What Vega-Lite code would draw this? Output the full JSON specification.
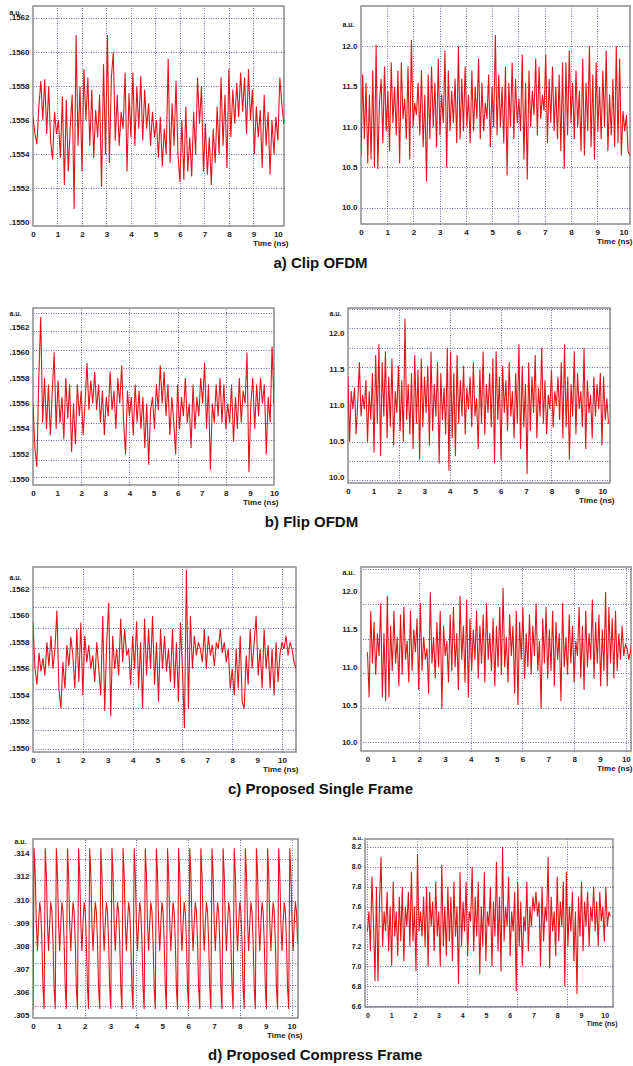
{
"$schema":"https://vega.github.io/schema/vega-lite/v6.json",
"background":"white",
"padding":{"left":8,"top":5,"right":2,"bottom":2},
"config":{
"font":"Liberation Sans",
"view":{"stroke":"#8c8c8c","strokeWidth":1.5},
"axis":{"domain":false,"ticks":false,"grid":false,"labelFont":"Liberation Sans","labelFontWeight":"bold","labelFontSize":8,"labelColor":"#1a1a1a","labelPadding":4,"titleFont":"Liberation Sans","titleFontWeight":"bold","titleFontSize":8,"titleColor":"#1a1a1a","titlePadding":1,"gridColor":"#4f4f96","gridDash":[1,1.5],"gridOpacity":0.85,"gridWidth":1,"labelOverlap":false,"labelFlush":false},
"title":{"font":"Liberation Sans","fontWeight":"bold","fontSize":15,"color":"#111111"}
},
"datasets":{
"slow":[
{"t":0,"a":0.15562,"b":0.1556,"c":0.15595},{"t":0.08,"a":0.15552,"b":0.15525,"c":0.1556},{"t":0.16,"a":0.15546,"b":0.1551,"c":0.15548},{"t":0.24,"a":0.15568,"b":0.1558,"c":0.15572},{"t":0.32,"a":0.15583,"b":0.15628,"c":0.15558},{"t":0.4,"a":0.1556,"b":0.15545,"c":0.15568},{"t":0.48,"a":0.15584,"b":0.1558,"c":0.15555},{"t":0.56,"a":0.15552,"b":0.1554,"c":0.1558},{"t":0.64,"a":0.1558,"b":0.15575,"c":0.15562},{"t":0.72,"a":0.15548,"b":0.15535,"c":0.15585},
{"t":0.8,"a":0.15537,"b":0.1557,"c":0.1556},{"t":0.88,"a":0.15565,"b":0.156,"c":0.15575},{"t":0.96,"a":0.15552,"b":0.1554,"c":0.15604},{"t":1.04,"a":0.1556,"b":0.15578,"c":0.15545},{"t":1.12,"a":0.15538,"b":0.15545,"c":0.1553},{"t":1.2,"a":0.15574,"b":0.15565,"c":0.15565},{"t":1.28,"a":0.15522,"b":0.15532,"c":0.15545},{"t":1.36,"a":0.15572,"b":0.1558,"c":0.15578},{"t":1.44,"a":0.1553,"b":0.15548,"c":0.15562},{"t":1.52,"a":0.15556,"b":0.15575,"c":0.15584},
{"t":1.6,"a":0.15575,"b":0.15522,"c":0.1557},{"t":1.68,"a":0.15508,"b":0.1556,"c":0.15545},{"t":1.76,"a":0.1561,"b":0.15528,"c":0.1559},{"t":1.84,"a":0.15545,"b":0.15575,"c":0.1555},{"t":1.92,"a":0.1558,"b":0.1555,"c":0.15595},{"t":2,"a":0.1553,"b":0.1557,"c":0.1554},{"t":2.08,"a":0.1559,"b":0.15535,"c":0.15585},{"t":2.16,"a":0.1556,"b":0.1556,"c":0.15565},{"t":2.24,"a":0.15585,"b":0.15592,"c":0.15578},{"t":2.32,"a":0.15545,"b":0.15555,"c":0.1556},
{"t":2.4,"a":0.15578,"b":0.15578,"c":0.1557},{"t":2.48,"a":0.15538,"b":0.1556,"c":0.1555},{"t":2.56,"a":0.15566,"b":0.15585,"c":0.1558},{"t":2.64,"a":0.1555,"b":0.15555,"c":0.1556},{"t":2.72,"a":0.15575,"b":0.15575,"c":0.1554},{"t":2.8,"a":0.15521,"b":0.15545,"c":0.156},{"t":2.88,"a":0.15593,"b":0.1557,"c":0.15528},{"t":2.96,"a":0.1554,"b":0.15535,"c":0.1558},{"t":3.04,"a":0.1561,"b":0.15565,"c":0.1561},{"t":3.12,"a":0.15535,"b":0.1555,"c":0.15524},
{"t":3.2,"a":0.15585,"b":0.15585,"c":0.15585},{"t":3.28,"a":0.156,"b":0.15555,"c":0.1556},{"t":3.36,"a":0.15548,"b":0.1557,"c":0.15575},{"t":3.44,"a":0.15575,"b":0.1554,"c":0.15555},{"t":3.52,"a":0.15545,"b":0.1558,"c":0.15598},{"t":3.6,"a":0.15565,"b":0.1556,"c":0.15565},{"t":3.68,"a":0.15555,"b":0.1559,"c":0.1559},{"t":3.76,"a":0.15588,"b":0.15545,"c":0.1557},{"t":3.84,"a":0.1553,"b":0.1552,"c":0.15575},{"t":3.92,"a":0.15576,"b":0.1557,"c":0.15548},
{"t":4,"a":0.1555,"b":0.1555,"c":0.15585},{"t":4.08,"a":0.15588,"b":0.15565,"c":0.1556},{"t":4.16,"a":0.15545,"b":0.15535,"c":0.15596},{"t":4.24,"a":0.1558,"b":0.15575,"c":0.15545},{"t":4.32,"a":0.15555,"b":0.15545,"c":0.1558},{"t":4.4,"a":0.15586,"b":0.1557,"c":0.1553},{"t":4.48,"a":0.15548,"b":0.1554,"c":0.15598},{"t":4.56,"a":0.15578,"b":0.15565,"c":0.15555},{"t":4.64,"a":0.15555,"b":0.15525,"c":0.1559},{"t":4.72,"a":0.1557,"b":0.1556,"c":0.1556},
{"t":4.8,"a":0.15545,"b":0.15512,"c":0.156},{"t":4.88,"a":0.15565,"b":0.15555,"c":0.15548},{"t":4.96,"a":0.1555,"b":0.15565,"c":0.1558},{"t":5.04,"a":0.1556,"b":0.1554,"c":0.15535},{"t":5.12,"a":0.15538,"b":0.15575,"c":0.1559},{"t":5.2,"a":0.15562,"b":0.15555,"c":0.1556},{"t":5.28,"a":0.15533,"b":0.1559,"c":0.15585},{"t":5.36,"a":0.15555,"b":0.1556,"c":0.15558},{"t":5.44,"a":0.1554,"b":0.15585,"c":0.15575},{"t":5.52,"a":0.15596,"b":0.1555,"c":0.1555},
{"t":5.6,"a":0.15535,"b":0.15575,"c":0.1559},{"t":5.68,"a":0.1557,"b":0.15535,"c":0.15545},{"t":5.76,"a":0.15545,"b":0.15565,"c":0.1558},{"t":5.84,"a":0.15583,"b":0.15545,"c":0.15535},{"t":5.92,"a":0.1554,"b":0.1552,"c":0.15595},{"t":6,"a":0.15524,"b":0.15575,"c":0.1556},{"t":6.08,"a":0.1556,"b":0.1554,"c":0.15515},{"t":6.16,"a":0.15525,"b":0.15565,"c":0.15635},{"t":6.24,"a":0.15568,"b":0.1555,"c":0.1553},{"t":6.32,"a":0.1553,"b":0.1558,"c":0.156},
{"t":6.4,"a":0.1555,"b":0.15545,"c":0.1556},{"t":6.48,"a":0.15527,"b":0.1556,"c":0.15585},{"t":6.56,"a":0.15565,"b":0.15525,"c":0.1557},{"t":6.64,"a":0.1554,"b":0.15575,"c":0.1558},{"t":6.72,"a":0.15585,"b":0.1554,"c":0.15575},{"t":6.8,"a":0.15558,"b":0.15565,"c":0.15565},{"t":6.88,"a":0.1558,"b":0.1555,"c":0.1559},{"t":6.96,"a":0.1553,"b":0.1558,"c":0.1556},{"t":7.04,"a":0.15558,"b":0.1556,"c":0.15585},{"t":7.12,"a":0.15528,"b":0.15592,"c":0.1557},
{"t":7.2,"a":0.1555,"b":0.1554,"c":0.15578},{"t":7.28,"a":0.15522,"b":0.15575,"c":0.15562},{"t":7.36,"a":0.15555,"b":0.15508,"c":0.1558},{"t":7.44,"a":0.15535,"b":0.1556,"c":0.15575},{"t":7.52,"a":0.15568,"b":0.15545,"c":0.1559},{"t":7.6,"a":0.1554,"b":0.15575,"c":0.15572},{"t":7.68,"a":0.15585,"b":0.1555,"c":0.1558},{"t":7.76,"a":0.15545,"b":0.1558,"c":0.15565},{"t":7.84,"a":0.15575,"b":0.15545,"c":0.15575},{"t":7.92,"a":0.15532,"b":0.15575,"c":0.15545},
{"t":8,"a":0.1559,"b":0.1554,"c":0.1556},{"t":8.08,"a":0.1555,"b":0.1556,"c":0.1554},{"t":8.16,"a":0.15578,"b":0.15545,"c":0.15575},{"t":8.24,"a":0.15558,"b":0.15575,"c":0.15545},{"t":8.32,"a":0.15582,"b":0.1553,"c":0.15585},{"t":8.4,"a":0.15562,"b":0.15565,"c":0.15535},{"t":8.48,"a":0.15588,"b":0.1554,"c":0.1553},{"t":8.56,"a":0.15565,"b":0.1558,"c":0.1557},{"t":8.64,"a":0.15585,"b":0.15545,"c":0.15548},{"t":8.72,"a":0.15552,"b":0.1557,"c":0.1559},
{"t":8.8,"a":0.1559,"b":0.1556,"c":0.1556},{"t":8.88,"a":0.1556,"b":0.156,"c":0.1558},{"t":8.96,"a":0.15578,"b":0.15506,"c":0.156},{"t":9.04,"a":0.1554,"b":0.1556,"c":0.15555},{"t":9.12,"a":0.15568,"b":0.1558,"c":0.15575},{"t":9.2,"a":0.1555,"b":0.1554,"c":0.15545},{"t":9.28,"a":0.15566,"b":0.15575,"c":0.1559},{"t":9.36,"a":0.15532,"b":0.1555,"c":0.1556},{"t":9.44,"a":0.15575,"b":0.1558,"c":0.15578},{"t":9.52,"a":0.15545,"b":0.1556,"c":0.15545},
{"t":9.6,"a":0.15565,"b":0.15575,"c":0.15575},{"t":9.68,"a":0.15528,"b":0.1552,"c":0.1554},{"t":9.76,"a":0.1556,"b":0.15565,"c":0.1558},{"t":9.84,"a":0.1554,"b":0.15545,"c":0.1555},{"t":9.92,"a":0.15562,"b":0.15605,"c":0.15572},{"t":10,"a":0.15548,"b":0.1556,"c":0.1558},{"t":10.08,"a":0.15585,"c":0.15575},{"t":10.16,"a":0.1557,"c":0.15585},{"t":10.24,"a":0.15558,"c":0.1557},{"t":10.32,"c":0.1558},
{"t":10.4,"c":0.15575},{"t":10.48,"c":0.15565},{"t":10.56,"c":0.1556}
],
"fast":[
{"t":0,"a":10.65,"b":11.4,"c":11.2,"d":7.35},{"t":0.064,"a":11.65,"b":10.5,"c":10.6,"d":7.55},{"t":0.128,"a":10.85,"b":11.2,"c":11.75,"d":7.15},{"t":0.192,"a":11.55,"b":10.95,"c":11.05,"d":7.9},{"t":0.256,"a":10.55,"b":11.25,"c":11.6,"d":7.45},{"t":0.32,"a":11.4,"b":10.6,"c":10.9,"d":6.85},{"t":0.384,"a":10.6,"b":11.05,"c":11.45,"d":7.8},{"t":0.448,"a":11.7,"b":11.6,"c":11.15,"d":6.85},{"t":0.512,"a":10.5,"b":10.85,"c":11.85,"d":7.65},{"t":0.576,"a":12.02,"b":11.15,"c":10.6,"d":8.1},
{"t":0.64,"a":10.48,"b":10.95,"c":11.45,"d":7.2},{"t":0.704,"a":11.3,"b":11.35,"c":10.55,"d":7.55},{"t":0.768,"a":11.6,"b":10.5,"c":11.95,"d":7.35},{"t":0.832,"a":10.8,"b":11.2,"c":10.6,"d":7.75},{"t":0.896,"a":11.75,"b":10.8,"c":11.55,"d":7.15},{"t":0.96,"a":10.95,"b":11.45,"c":10.95,"d":7.6},{"t":1.024,"a":11.45,"b":10.35,"c":11.75,"d":7},{"t":1.088,"a":10.7,"b":11.7,"c":11.05,"d":7.85},{"t":1.152,"a":11.8,"b":10.75,"c":11.4,"d":7.3},{"t":1.216,"a":11.05,"b":11.85,"c":10.75,"d":7.55},
{"t":1.28,"a":11.5,"b":10.3,"c":11.7,"d":7.1},{"t":1.344,"a":10.9,"b":11.6,"c":10.9,"d":7.7},{"t":1.408,"a":11.7,"b":10.85,"c":11.8,"d":7.25},{"t":1.472,"a":10.55,"b":11.75,"c":11.1,"d":7.8},{"t":1.536,"a":11.8,"b":10.55,"c":11.35,"d":7.05},{"t":1.6,"a":11.1,"b":11.4,"c":10.8,"d":7.6},{"t":1.664,"a":11.35,"b":10.7,"c":11.75,"d":7.4},{"t":1.728,"a":10.85,"b":11.65,"c":10.95,"d":7.75},{"t":1.792,"a":11.75,"b":10.45,"c":11.5,"d":7.2},{"t":1.856,"a":10.6,"b":11.2,"c":11.2,"d":7.95},
{"t":1.92,"a":12.08,"b":10.9,"c":11.65,"d":7.25},{"t":1.984,"a":11,"b":11.55,"c":10.7,"d":7.6},{"t":2.048,"a":11.3,"b":10.65,"c":11.85,"d":6.95},{"t":2.112,"a":11.15,"b":11.35,"c":10.95,"d":8.12},{"t":2.176,"a":11.55,"b":10.5,"c":11.4,"d":7.35},{"t":2.24,"a":10.9,"b":12.2,"c":11.1,"d":7.55},{"t":2.304,"a":11.7,"b":10.8,"c":11.25,"d":7.3},{"t":2.368,"a":10.75,"b":11.3,"c":10.65,"d":7.7},{"t":2.432,"a":11.4,"b":10.6,"c":12,"d":7.2},{"t":2.496,"a":10.33,"b":11.45,"c":11.05,"d":7.8},
{"t":2.56,"a":11.65,"b":10.4,"c":11.4,"d":7},{"t":2.624,"a":10.85,"b":11.7,"c":10.85,"d":7.75},{"t":2.688,"a":11.75,"b":10.75,"c":11.6,"d":7.4},{"t":2.752,"a":11,"b":11.5,"c":11,"d":7.65},{"t":2.816,"a":11.55,"b":10.25,"c":11.75,"d":7.15},{"t":2.88,"a":10.75,"b":11.65,"c":10.45,"d":7.85},{"t":2.944,"a":11.85,"b":10.7,"c":11.55,"d":7.3},{"t":3.008,"a":10.9,"b":11.4,"c":11.15,"d":7.55},{"t":3.072,"a":11.4,"b":10.9,"c":11.35,"d":7},{"t":3.136,"a":11.05,"b":11.55,"c":10.8,"d":8.02},
{"t":3.2,"a":11.95,"b":10.45,"c":11.7,"d":7.2},{"t":3.264,"a":10.5,"b":11.75,"c":10.95,"d":7.6},{"t":3.328,"a":11.7,"b":10.65,"c":11.8,"d":7.1},{"t":3.392,"a":10.95,"b":11.3,"c":11,"d":7.8},{"t":3.456,"a":11.45,"b":10.85,"c":11.45,"d":7.25},{"t":3.52,"a":11.05,"b":11.6,"c":10.7,"d":7.7},{"t":3.584,"a":11.6,"b":10.2,"c":11.95,"d":7.05},{"t":3.648,"a":10.8,"b":11.45,"c":11.1,"d":7.85},{"t":3.712,"a":12,"b":10.8,"c":11.55,"d":7.3},{"t":3.776,"a":10.85,"b":11.25,"c":10.8,"d":7.6},
{"t":3.84,"a":11.6,"b":10.6,"c":11.9,"d":6.82},{"t":3.904,"a":10.95,"b":11.8,"c":10.6,"d":7.95},{"t":3.968,"a":11.75,"b":10.1,"c":11.65,"d":7.2},{"t":4.032,"a":11,"b":11.75,"c":10.95,"d":7.65},{"t":4.096,"a":11.4,"b":10.55,"c":11.5,"d":7.35},{"t":4.16,"a":10.8,"b":11.45,"c":11.1,"d":7.85},{"t":4.224,"a":11.7,"b":10.3,"c":11.75,"d":7.1},{"t":4.288,"a":10.95,"b":11.7,"c":10.85,"d":7.55},{"t":4.352,"a":11.5,"b":10.75,"c":11.55,"d":7.45},{"t":4.416,"a":11.1,"b":11.35,"c":11.05,"d":8},
{"t":4.48,"a":11.85,"b":10.85,"c":11.7,"d":7.15},{"t":4.544,"a":10.85,"b":11.55,"c":10.8,"d":7.7},{"t":4.608,"a":11.55,"b":10.6,"c":11.85,"d":7.3},{"t":4.672,"a":10.95,"b":11.25,"c":11.1,"d":7.85},{"t":4.736,"a":11.3,"b":10.95,"c":11.45,"d":6.92},{"t":4.8,"a":11.1,"b":11.4,"c":10.95,"d":7.6},{"t":4.864,"a":11.65,"b":10.7,"c":11.65,"d":7.2},{"t":4.928,"a":10.75,"b":11.6,"c":10.75,"d":7.95},{"t":4.992,"a":11.5,"b":10.85,"c":11.55,"d":7.05},{"t":5.056,"a":11,"b":11.1,"c":11,"d":7.55},
{"t":5.12,"a":12.14,"b":10.4,"c":11.8,"d":7.4},{"t":5.184,"a":10.9,"b":11.5,"c":10.9,"d":7.8},{"t":5.248,"a":11.65,"b":10.75,"c":12.05,"d":7},{"t":5.312,"a":11,"b":11.75,"c":11,"d":7.65},{"t":5.376,"a":11.5,"b":10.6,"c":11.4,"d":7.3},{"t":5.44,"a":10.8,"b":11.3,"c":10.8,"d":8.05},{"t":5.504,"a":11.75,"b":10.9,"c":11.7,"d":7.15},{"t":5.568,"a":10.4,"b":11.45,"c":11.15,"d":7.7},{"t":5.632,"a":11.55,"b":10.7,"c":11.55,"d":6.95},{"t":5.696,"a":11,"b":11.65,"c":10.65,"d":8.2},
{"t":5.76,"a":11.8,"b":10.2,"c":11.75,"d":7.25},{"t":5.824,"a":10.85,"b":11.75,"c":10.5,"d":7.6},{"t":5.888,"a":11.6,"b":10.8,"c":11.6,"d":7.4},{"t":5.952,"a":11.05,"b":11.4,"c":11.1,"d":7.9},{"t":6.016,"a":11.35,"b":10.25,"c":11.8,"d":7.1},{"t":6.08,"a":10.95,"b":11.55,"c":10.85,"d":7.55},{"t":6.144,"a":11.9,"b":10.9,"c":11.45,"d":7.35},{"t":6.208,"a":10.6,"b":11.35,"c":11,"d":7.75},{"t":6.272,"a":11.55,"b":10.65,"c":11.7,"d":6.75},{"t":6.336,"a":10.35,"b":11.6,"c":10.9,"d":7.85},
{"t":6.4,"a":11.7,"b":10.85,"c":11.55,"d":7.2},{"t":6.464,"a":11,"b":11.2,"c":11.15,"d":7.65},{"t":6.528,"a":11.45,"b":10.55,"c":11.85,"d":7},{"t":6.592,"a":11.15,"b":11.45,"c":10.95,"d":7.5},{"t":6.656,"a":11.85,"b":10.75,"c":11.35,"d":7.35},{"t":6.72,"a":10.9,"b":11.85,"c":10.45,"d":7.85},{"t":6.784,"a":11.75,"b":10.4,"c":11.65,"d":7.15},{"t":6.848,"a":11.1,"b":11.55,"c":11.05,"d":7.6},{"t":6.912,"a":11.4,"b":10.7,"c":11.8,"d":7.4},{"t":6.976,"a":11.2,"b":11.3,"c":10.85,"d":7.7},
{"t":7.04,"a":11.9,"b":10.05,"c":11.5,"d":7.55},{"t":7.104,"a":10.8,"b":11.6,"c":10.95,"d":7.75},{"t":7.168,"a":11.6,"b":10.65,"c":11.75,"d":7.5},{"t":7.232,"a":11.05,"b":11.4,"c":10.75,"d":7.65},{"t":7.296,"a":11.75,"b":10.9,"c":11.6,"d":7},{"t":7.36,"a":10.95,"b":11.7,"c":11.1,"d":7.8},{"t":7.424,"a":11.5,"b":10.55,"c":11.45,"d":7.25},{"t":7.488,"a":10.85,"b":11.25,"c":10.55,"d":7.6},{"t":7.552,"a":11.65,"b":10.85,"c":11.85,"d":7.45},{"t":7.616,"a":10.7,"b":11.8,"c":11,"d":8.1},
{"t":7.68,"a":11.8,"b":10.75,"c":11.4,"d":6.98},{"t":7.744,"a":10.48,"b":11.35,"c":10.9,"d":7.7},{"t":7.808,"a":11.8,"b":10.6,"c":11.7,"d":7.35},{"t":7.872,"a":10.9,"b":11.15,"c":11.05,"d":7.55},{"t":7.936,"a":11.95,"b":10.95,"c":11.55,"d":7.1},{"t":8,"a":11.05,"b":11.5,"c":10.8,"d":7.9},{"t":8.064,"a":11.55,"b":10.7,"c":11.35,"d":7.25},{"t":8.128,"a":10.85,"b":11.2,"c":11.15,"d":7.65},{"t":8.192,"a":11.7,"b":11,"c":11.8,"d":7.4},{"t":8.256,"a":11,"b":11.4,"c":10.85,"d":7.85},
{"t":8.32,"a":11.45,"b":10.8,"c":11.55,"d":6.8},{"t":8.384,"a":10.7,"b":11.6,"c":10.7,"d":7.95},{"t":8.448,"a":11.85,"b":10.55,"c":11.75,"d":7.2},{"t":8.512,"a":10.65,"b":11.85,"c":11,"d":7.6},{"t":8.576,"a":11.55,"b":10.7,"c":11.45,"d":7.35},{"t":8.64,"a":10.95,"b":11.4,"c":11.1,"d":7.75},{"t":8.704,"a":12,"b":10.25,"c":11.9,"d":7.05},{"t":8.768,"a":10.75,"b":11.3,"c":10.85,"d":7.55},{"t":8.832,"a":11.65,"b":10.85,"c":11.6,"d":6.72},{"t":8.896,"a":10.6,"b":11.75,"c":11.05,"d":7.7},
{"t":8.96,"a":11.8,"b":10.6,"c":11.7,"d":7.3},{"t":9.024,"a":10.95,"b":11.45,"c":10.75,"d":7.85},{"t":9.088,"a":11.5,"b":10.95,"c":11.5,"d":7.15},{"t":9.152,"a":10.85,"b":11.2,"c":10.95,"d":7.65},{"t":9.216,"a":11.7,"b":10.7,"c":12,"d":7.4},{"t":9.28,"a":11,"b":11.8,"c":10.75,"d":7.75},{"t":9.344,"a":11.95,"b":10.4,"c":11.8,"d":7.2},{"t":9.408,"a":10.7,"b":11.35,"c":11.05,"d":7.6},{"t":9.472,"a":11.4,"b":10.9,"c":11.65,"d":7.45},{"t":9.536,"a":10.9,"b":11.15,"c":10.85,"d":7.8},
{"t":9.6,"a":11.6,"b":10.55,"c":11.75,"d":7.35},{"t":9.664,"a":10.75,"b":11.4,"c":10.95,"d":7.65},{"t":9.728,"a":12,"b":10.85,"c":11.45,"d":7.2},{"t":9.792,"a":10.8,"b":11.3,"c":11.1,"d":7.75},{"t":9.856,"a":11.85,"b":10.95,"c":11.55,"d":7.45},{"t":9.92,"a":10.65,"b":11.45,"c":11.15,"d":7.6},{"t":9.984,"a":11.2,"b":10.45,"c":11.3,"d":7.25},{"t":10.048,"a":10.95,"b":11.4,"c":11.25,"d":7.8},{"t":10.112,"a":11.15,"b":10.8,"c":11.1,"d":7.4},{"t":10.176,"a":10.7,"b":11.1,"c":11.2,"d":7.55},
{"t":10.24,"a":10.65,"b":10.75,"c":11.35,"d":7.5}
],
"clk":[
{"t":0,"v":0.3053},{"t":0.043,"v":0.3145},{"t":0.086,"v":0.3123},{"t":0.129,"v":0.309},{"t":0.172,"v":0.3078},{"t":0.215,"v":0.309},{"t":0.258,"v":0.3099},{"t":0.301,"v":0.3095},{"t":0.344,"v":0.3082},{"t":0.387,"v":0.3062},
{"t":0.43,"v":0.3053},{"t":0.473,"v":0.3145},{"t":0.516,"v":0.3123},{"t":0.559,"v":0.309},{"t":0.602,"v":0.3078},{"t":0.645,"v":0.309},{"t":0.688,"v":0.3099},{"t":0.731,"v":0.3095},{"t":0.774,"v":0.3082},{"t":0.817,"v":0.3062},
{"t":0.86,"v":0.3053},{"t":0.903,"v":0.3145},{"t":0.946,"v":0.3123},{"t":0.989,"v":0.309},{"t":1.032,"v":0.3078},{"t":1.075,"v":0.309},{"t":1.118,"v":0.3099},{"t":1.161,"v":0.3095},{"t":1.204,"v":0.3082},{"t":1.247,"v":0.3062},
{"t":1.29,"v":0.3053},{"t":1.333,"v":0.3145},{"t":1.376,"v":0.3123},{"t":1.419,"v":0.309},{"t":1.462,"v":0.3078},{"t":1.505,"v":0.309},{"t":1.548,"v":0.3099},{"t":1.591,"v":0.3095},{"t":1.634,"v":0.3082},{"t":1.677,"v":0.3062},
{"t":1.72,"v":0.3053},{"t":1.763,"v":0.3145},{"t":1.806,"v":0.3123},{"t":1.849,"v":0.309},{"t":1.892,"v":0.3078},{"t":1.935,"v":0.309},{"t":1.978,"v":0.3099},{"t":2.021,"v":0.3095},{"t":2.064,"v":0.3082},{"t":2.107,"v":0.3062},
{"t":2.15,"v":0.3053},{"t":2.193,"v":0.3145},{"t":2.236,"v":0.3123},{"t":2.279,"v":0.309},{"t":2.322,"v":0.3078},{"t":2.365,"v":0.309},{"t":2.408,"v":0.3099},{"t":2.451,"v":0.3095},{"t":2.494,"v":0.3082},{"t":2.537,"v":0.3062},
{"t":2.58,"v":0.3053},{"t":2.623,"v":0.3145},{"t":2.666,"v":0.3123},{"t":2.709,"v":0.309},{"t":2.752,"v":0.3078},{"t":2.795,"v":0.309},{"t":2.838,"v":0.3099},{"t":2.881,"v":0.3095},{"t":2.924,"v":0.3082},{"t":2.967,"v":0.3062},
{"t":3.01,"v":0.3053},{"t":3.053,"v":0.3145},{"t":3.096,"v":0.3123},{"t":3.139,"v":0.309},{"t":3.182,"v":0.3078},{"t":3.225,"v":0.309},{"t":3.268,"v":0.3099},{"t":3.311,"v":0.3095},{"t":3.354,"v":0.3082},{"t":3.397,"v":0.3062},
{"t":3.44,"v":0.3053},{"t":3.483,"v":0.3145},{"t":3.526,"v":0.3123},{"t":3.569,"v":0.309},{"t":3.612,"v":0.3078},{"t":3.655,"v":0.309},{"t":3.698,"v":0.3099},{"t":3.741,"v":0.3095},{"t":3.784,"v":0.3082},{"t":3.827,"v":0.3062},
{"t":3.87,"v":0.3053},{"t":3.913,"v":0.3145},{"t":3.956,"v":0.3123},{"t":3.999,"v":0.309},{"t":4.042,"v":0.3078},{"t":4.085,"v":0.309},{"t":4.128,"v":0.3099},{"t":4.171,"v":0.3095},{"t":4.214,"v":0.3082},{"t":4.257,"v":0.3062},
{"t":4.3,"v":0.3053},{"t":4.343,"v":0.3145},{"t":4.386,"v":0.3123},{"t":4.429,"v":0.309},{"t":4.472,"v":0.3078},{"t":4.515,"v":0.309},{"t":4.558,"v":0.3099},{"t":4.601,"v":0.3095},{"t":4.644,"v":0.3082},{"t":4.687,"v":0.3062},
{"t":4.73,"v":0.3053},{"t":4.773,"v":0.3145},{"t":4.816,"v":0.3123},{"t":4.859,"v":0.309},{"t":4.902,"v":0.3078},{"t":4.945,"v":0.309},{"t":4.988,"v":0.3099},{"t":5.031,"v":0.3095},{"t":5.074,"v":0.3082},{"t":5.117,"v":0.3062},
{"t":5.16,"v":0.3053},{"t":5.203,"v":0.3145},{"t":5.246,"v":0.3123},{"t":5.289,"v":0.309},{"t":5.332,"v":0.3078},{"t":5.375,"v":0.309},{"t":5.418,"v":0.3099},{"t":5.461,"v":0.3095},{"t":5.504,"v":0.3082},{"t":5.547,"v":0.3062},
{"t":5.59,"v":0.3053},{"t":5.633,"v":0.3145},{"t":5.676,"v":0.3123},{"t":5.719,"v":0.309},{"t":5.762,"v":0.3078},{"t":5.805,"v":0.309},{"t":5.848,"v":0.3099},{"t":5.891,"v":0.3095},{"t":5.934,"v":0.3082},{"t":5.977,"v":0.3062},
{"t":6.02,"v":0.3053},{"t":6.063,"v":0.3145},{"t":6.106,"v":0.3123},{"t":6.149,"v":0.309},{"t":6.192,"v":0.3078},{"t":6.235,"v":0.309},{"t":6.278,"v":0.3099},{"t":6.321,"v":0.3095},{"t":6.364,"v":0.3082},{"t":6.407,"v":0.3062},
{"t":6.45,"v":0.3053},{"t":6.493,"v":0.3145},{"t":6.536,"v":0.3123},{"t":6.579,"v":0.309},{"t":6.622,"v":0.3078},{"t":6.665,"v":0.309},{"t":6.708,"v":0.3099},{"t":6.751,"v":0.3095},{"t":6.794,"v":0.3082},{"t":6.837,"v":0.3062},
{"t":6.88,"v":0.3053},{"t":6.923,"v":0.3145},{"t":6.966,"v":0.3123},{"t":7.009,"v":0.309},{"t":7.052,"v":0.3078},{"t":7.095,"v":0.309},{"t":7.138,"v":0.3099},{"t":7.181,"v":0.3095},{"t":7.224,"v":0.3082},{"t":7.267,"v":0.3062},
{"t":7.31,"v":0.3053},{"t":7.353,"v":0.3145},{"t":7.396,"v":0.3123},{"t":7.439,"v":0.309},{"t":7.482,"v":0.3078},{"t":7.525,"v":0.309},{"t":7.568,"v":0.3099},{"t":7.611,"v":0.3095},{"t":7.654,"v":0.3082},{"t":7.697,"v":0.3062},
{"t":7.74,"v":0.3053},{"t":7.783,"v":0.3145},{"t":7.826,"v":0.3123},{"t":7.869,"v":0.309},{"t":7.912,"v":0.3078},{"t":7.955,"v":0.309},{"t":7.998,"v":0.3099},{"t":8.041,"v":0.3095},{"t":8.084,"v":0.3082},{"t":8.127,"v":0.3062},
{"t":8.17,"v":0.3053},{"t":8.213,"v":0.3145},{"t":8.256,"v":0.3123},{"t":8.299,"v":0.309},{"t":8.342,"v":0.3078},{"t":8.385,"v":0.309},{"t":8.428,"v":0.3099},{"t":8.471,"v":0.3095},{"t":8.514,"v":0.3082},{"t":8.557,"v":0.3062},
{"t":8.6,"v":0.3053},{"t":8.643,"v":0.3145},{"t":8.686,"v":0.3123},{"t":8.729,"v":0.309},{"t":8.772,"v":0.3078},{"t":8.815,"v":0.309},{"t":8.858,"v":0.3099},{"t":8.901,"v":0.3095},{"t":8.944,"v":0.3082},{"t":8.987,"v":0.3062},
{"t":9.03,"v":0.3053},{"t":9.073,"v":0.3145},{"t":9.116,"v":0.3123},{"t":9.159,"v":0.309},{"t":9.202,"v":0.3078},{"t":9.245,"v":0.309},{"t":9.288,"v":0.3099},{"t":9.331,"v":0.3095},{"t":9.374,"v":0.3082},{"t":9.417,"v":0.3062},
{"t":9.46,"v":0.3053},{"t":9.503,"v":0.3145},{"t":9.546,"v":0.3123},{"t":9.589,"v":0.309},{"t":9.632,"v":0.3078},{"t":9.675,"v":0.309},{"t":9.718,"v":0.3099},{"t":9.761,"v":0.3095},{"t":9.804,"v":0.3082},{"t":9.847,"v":0.3062},
{"t":9.89,"v":0.3053},{"t":9.933,"v":0.3145},{"t":9.976,"v":0.3123},{"t":10.019,"v":0.309},{"t":10.062,"v":0.3078},{"t":10.105,"v":0.309},{"t":10.148,"v":0.3099},{"t":10.191,"v":0.3095},{"t":10.234,"v":0.3082}
]
},
"spacing":36,
"vconcat":[
{"hconcat":[
{"width":251,"height":220,"data":{"name":"slow"},
"layer":[
{"mark":{"type":"line","color":"#e3141c","strokeWidth":1.1,"clip":true},"encoding":{
"x":{"field":"t","type":"quantitative","scale":{"domain":[0,10.25],"nice":false,"zero":false},"axis":{"orient":"top","values":[1,2,3,4,5,6,7,8,9],"grid":true,"labels":false,"title":null}},
"y":{"field":"a","type":"quantitative","scale":{"domain":[0.15498,0.15627],"nice":false,"zero":false},"axis":{"orient":"right","values":[0.1552,0.1554,0.1556,0.1558,0.156,0.1562],"grid":true,"labels":false,"title":null}}}},
{"mark":{"type":"line","strokeOpacity":0,"clip":true},"encoding":{
"x":{"field":"t","type":"quantitative","axis":{"orient":"bottom","values":[0,1,2,3,4,5,6,7,8,9,10],"title":"Time (ns)","titleAnchor":"end","titleAlign":"right","titleX":255}},
"y":{"field":"a","type":"quantitative","axis":{"orient":"left","values":[0.155,0.1552,0.1554,0.1556,0.1558,0.156,0.1562],"labelExpr":"replace(format(datum.value,'.4f'),'0.','.')","title":"a.u.","titleAngle":0,"titleAlign":"left","titleBaseline":"top","titleFontSize":7,"titleX":-24,"titleY":2}}}}
],
"resolve":{"axis":{"x":"independent","y":"independent"}}},
{"width":269,"height":218,"data":{"name":"fast"},
"layer":[
{"mark":{"type":"line","color":"#e3141c","strokeWidth":1.1,"clip":true},"encoding":{
"x":{"field":"t","type":"quantitative","scale":{"domain":[0,10.25],"nice":false,"zero":false},"axis":{"orient":"top","values":[1,2,3,4,5,6,7,8,9],"grid":true,"labels":false,"title":null}},
"y":{"field":"a","type":"quantitative","scale":{"domain":[9.8,12.5],"nice":false,"zero":false},"axis":{"orient":"right","values":[10,10.5,11,11.5,12],"grid":true,"labels":false,"title":null}}}},
{"mark":{"type":"line","strokeOpacity":0,"clip":true},"encoding":{
"x":{"field":"t","type":"quantitative","axis":{"orient":"bottom","values":[0,1,2,3,4,5,6,7,8,9,10],"title":"Time (ns)","titleAnchor":"end","titleAlign":"right","titleX":271}},
"y":{"field":"a","type":"quantitative","axis":{"orient":"left","values":[10,10.5,11,11.5,12],"format":".1f","title":"a.u.","titleAngle":0,"titleAlign":"left","titleBaseline":"top","titleFontSize":7,"titleX":-19,"titleY":14}}}}
],
"resolve":{"axis":{"x":"independent","y":"independent"}}}
],
"spacing":51,
"title":{"text":"a) Clip OFDM","orient":"bottom","anchor":"middle","offset":8}},

{"hconcat":[
{"width":241,"height":177,"data":{"name":"slow"},
"layer":[
{"mark":{"type":"line","color":"#e3141c","strokeWidth":1.1,"clip":true},"encoding":{
"x":{"field":"t","type":"quantitative","scale":{"domain":[0,10],"nice":false,"zero":false},"axis":{"orient":"top","values":[2,4,6,8],"grid":true,"labels":false,"title":null}},
"y":{"field":"b","type":"quantitative","scale":{"domain":[0.15496,0.15635],"nice":false,"zero":false},"axis":{"orient":"right","values":[0.15502,0.15516,0.15531,0.15545,0.15559,0.15574,0.15588,0.15602,0.15617,0.15631],"grid":true,"labels":false,"title":null}}}},
{"mark":{"type":"line","strokeOpacity":0,"clip":true},"encoding":{
"x":{"field":"t","type":"quantitative","axis":{"orient":"bottom","values":[0,1,2,3,4,5,6,7,8,9,10],"title":"Time (ns)","titleAnchor":"end","titleAlign":"right","titleX":245}},
"y":{"field":"b","type":"quantitative","axis":{"orient":"left","values":[0.155,0.1552,0.1554,0.1556,0.1558,0.156,0.1562],"labelExpr":"replace(format(datum.value,'.4f'),'0.','.')","title":"a.u.","titleAngle":0,"titleAlign":"left","titleBaseline":"top","titleFontSize":7,"titleX":-24,"titleY":1}}}}
],
"resolve":{"axis":{"x":"independent","y":"independent"}}},
{"width":262,"height":175,"data":{"name":"fast"},
"layer":[
{"mark":{"type":"line","color":"#e3141c","strokeWidth":1.1,"clip":true},"encoding":{
"x":{"field":"t","type":"quantitative","scale":{"domain":[0,10.3],"nice":false,"zero":false},"axis":{"orient":"top","values":[2,4,6,8],"grid":true,"labels":false,"title":null}},
"y":{"field":"b","type":"quantitative","scale":{"domain":[9.93,12.35],"nice":false,"zero":false},"axis":{"orient":"right","values":[9.97,10.24,10.5,10.76,11.01,11.27,11.53,11.8,12.07,12.34],"grid":true,"labels":false,"title":null}}}},
{"mark":{"type":"line","strokeOpacity":0,"clip":true},"encoding":{
"x":{"field":"t","type":"quantitative","axis":{"orient":"bottom","values":[0,1,2,3,4,5,6,7,8,9,10],"title":"Time (ns)","titleAnchor":"end","titleAlign":"right","titleX":266}},
"y":{"field":"b","type":"quantitative","axis":{"orient":"left","values":[10,10.5,11,11.5,12],"format":".1f","title":"a.u.","titleAngle":0,"titleAlign":"left","titleBaseline":"top","titleFontSize":7,"titleX":-19,"titleY":1}}}}
],
"resolve":{"axis":{"x":"independent","y":"independent"}}}
],
"spacing":47,
"title":{"text":"b) Flip OFDM","orient":"bottom","anchor":"middle","offset":8}},

{"hconcat":[
{"width":263,"height":185,"data":{"name":"slow"},
"layer":[
{"mark":{"type":"line","color":"#e3141c","strokeWidth":1.1,"clip":true},"encoding":{
"x":{"field":"t","type":"quantitative","scale":{"domain":[0,10.56],"nice":false,"zero":false},"axis":{"orient":"top","values":[2,4,6,8,10],"grid":true,"labels":false,"title":null}},
"y":{"field":"c","type":"quantitative","scale":{"domain":[0.15497,0.15637],"nice":false,"zero":false},"axis":{"orient":"right","values":[0.15499,0.15514,0.1553,0.15545,0.15561,0.15576,0.15591,0.15607,0.15622],"grid":true,"labels":false,"title":null}}}},
{"mark":{"type":"line","strokeOpacity":0,"clip":true},"encoding":{
"x":{"field":"t","type":"quantitative","axis":{"orient":"bottom","values":[0,1,2,3,4,5,6,7,8,9,10],"title":"Time (ns)","titleAnchor":"end","titleAlign":"right","titleX":265}},
"y":{"field":"c","type":"quantitative","axis":{"orient":"left","values":[0.155,0.1552,0.1554,0.1556,0.1558,0.156,0.1562],"labelExpr":"replace(format(datum.value,'.4f'),'0.','.')","title":"a.u.","titleAngle":0,"titleAlign":"left","titleBaseline":"top","titleFontSize":7,"titleX":-24,"titleY":6}}}}
],
"resolve":{"axis":{"x":"independent","y":"independent"}}},
{"width":270,"height":184,"data":{"name":"fast"},
"layer":[
{"mark":{"type":"line","color":"#e3141c","strokeWidth":1.1,"clip":true},"encoding":{
"x":{"field":"t","type":"quantitative","scale":{"domain":[-0.25,10.2],"nice":false,"zero":false},"axis":{"orient":"top","values":[2,4,6,8,10],"grid":true,"labels":false,"title":null}},
"y":{"field":"c","type":"quantitative","scale":{"domain":[9.89,12.33],"nice":false,"zero":false},"axis":{"orient":"right","values":[10.01,10.46,10.92,11.38,11.84,12.3],"grid":true,"labels":false,"title":null}}}},
{"mark":{"type":"line","strokeOpacity":0,"clip":true},"encoding":{
"x":{"field":"t","type":"quantitative","axis":{"orient":"bottom","values":[0,1,2,3,4,5,6,7,8,9,10],"title":"Time (ns)","titleAnchor":"end","titleAlign":"right","titleX":271}},
"y":{"field":"c","type":"quantitative","axis":{"orient":"left","values":[10,10.5,11,11.5,12],"format":".1f","title":"a.u.","titleAngle":0,"titleAlign":"left","titleBaseline":"top","titleFontSize":7,"titleX":-19,"titleY":1}}}}
],
"resolve":{"axis":{"x":"independent","y":"independent"}}}
],
"spacing":41,
"title":{"text":"c) Proposed Single Frame","orient":"bottom","anchor":"middle","offset":8}},

{"hconcat":[
{"width":265,"height":179,"data":{"name":"clk"},
"layer":[
{"mark":{"type":"line","color":"#e3141c","strokeWidth":1.1,"clip":true},"encoding":{
"x":{"field":"t","type":"quantitative","scale":{"domain":[0,10.25],"nice":false,"zero":false},"axis":{"orient":"top","values":[2,4,6,8,10],"grid":true,"labels":false,"title":null}},
"y":{"field":"v","type":"quantitative","scale":{"domain":[0.30491,0.31,0.3153],"range":[179,61,0],"nice":false,"zero":false},"axis":{"orient":"right","values":[0.30543,0.30635,0.30727,0.3082,0.30908,0.30996,0.31174,0.31356],"grid":true,"labels":false,"title":null}}}},
{"mark":{"type":"line","strokeOpacity":0,"clip":true},"encoding":{
"x":{"field":"t","type":"quantitative","axis":{"orient":"bottom","values":[0,1,2,3,4,5,6,7,8,9,10],"title":"Time (ns)","titleAnchor":"end","titleAlign":"right","titleX":269}},
"y":{"field":"v","type":"quantitative","axis":{"orient":"left","values":[0.305,0.306,0.307,0.308,0.309,0.31,0.312,0.314],"labelExpr":"replace(format(datum.value,'.3f'),'0.','.')","title":"a.u.","titleAngle":0,"titleAlign":"left","titleBaseline":"top","titleFontSize":7,"titleX":-19,"titleY":-2}}}}
],
"resolve":{"axis":{"x":"independent","y":"independent"}}},
{"width":248,"height":168,"data":{"name":"fast"},
"layer":[
{"mark":{"type":"line","color":"#e3141c","strokeWidth":1.1,"clip":true},"encoding":{
"x":{"field":"t","type":"quantitative","scale":{"domain":[-0.1,10.35],"nice":false,"zero":false},"axis":{"orient":"top","values":[0,2.1,4.2,6.3,8.4],"grid":true,"labels":false,"title":null}},
"y":{"field":"d","type":"quantitative","scale":{"domain":[6.59,8.28],"nice":false,"zero":false},"axis":{"orient":"right","values":[6.6,6.8,7,7.2,7.4,7.6,7.8,8,8.2],"grid":true,"labels":false,"title":null}}}},
{"mark":{"type":"line","strokeOpacity":0,"clip":true},"encoding":{
"x":{"field":"t","type":"quantitative","axis":{"orient":"bottom","values":[0,1,2,3,4,5,6,7,8,9,10],"labelFontSize":7,"title":"Time (ns)","titleFontSize":7,"titleAnchor":"end","titleAlign":"right","titleX":252}},
"y":{"field":"d","type":"quantitative","axis":{"orient":"left","values":[6.6,6.8,7,7.2,7.4,7.6,7.8,8,8.2],"format":".1f","labelFontSize":7,"title":"a.u.","titleAngle":0,"titleAlign":"left","titleBaseline":"top","titleFontSize":6,"titleX":-13,"titleY":-5}}}}
],
"resolve":{"axis":{"x":"independent","y":"independent"}}}
],
"spacing":47,
"title":{"text":"d) Proposed Compress Frame","orient":"bottom","anchor":"middle","offset":8}}
]
}
